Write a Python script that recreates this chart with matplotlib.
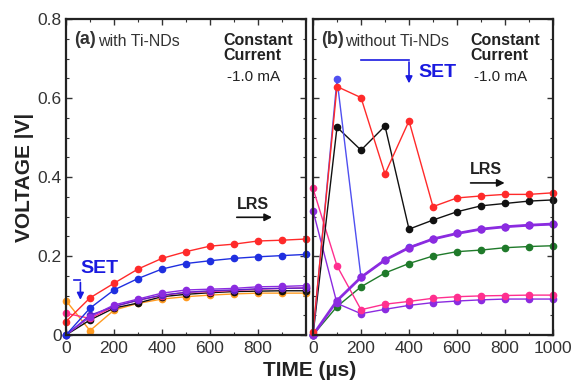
import matplotlib
matplotlib.use("Agg")
import matplotlib.pyplot as plt
from matplotlib.ticker import MultipleLocator, FuncFormatter

plt.rcParams["font.family"] = ["Liberation Sans", "DejaVu Sans"]

time_us = [0, 100, 200, 300, 400, 500, 600, 700, 800, 900, 1000]

# Panel (a): with Ti-NDs
a_red    = [0.034, 0.094, 0.131, 0.167, 0.194, 0.211, 0.225, 0.230, 0.238, 0.240, 0.243]
a_blue   = [0.000, 0.068, 0.114, 0.143, 0.167, 0.181, 0.188, 0.194, 0.198, 0.201, 0.204]
a_purple = [0.000, 0.046, 0.076, 0.091, 0.106, 0.114, 0.116, 0.118, 0.122, 0.123, 0.125]
a_violet = [0.000, 0.050, 0.072, 0.088, 0.101, 0.108, 0.112, 0.114, 0.117, 0.118, 0.119]
a_pink   = [0.055, 0.042, 0.072, 0.088, 0.100, 0.108, 0.110, 0.113, 0.116, 0.118, 0.119]
a_black  = [0.000, 0.038, 0.068, 0.081, 0.097, 0.103, 0.107, 0.110, 0.111, 0.112, 0.112]
a_orange = [0.087, 0.011, 0.063, 0.080, 0.091, 0.097, 0.101, 0.104, 0.106, 0.106, 0.106]

# Panel (b): without Ti-NDs
b_red     = [0.008, 0.629, 0.601, 0.408, 0.542, 0.325, 0.347, 0.352, 0.356, 0.356, 0.360]
b_black   = [0.000, 0.526, 0.468, 0.529, 0.268, 0.291, 0.312, 0.327, 0.333, 0.339, 0.342]
b_blue    = [0.000, 0.647, 0.146, 0.190, 0.222, 0.243, 0.257, 0.268, 0.274, 0.278, 0.280]
b_violet  = [0.000, 0.087, 0.146, 0.190, 0.221, 0.243, 0.257, 0.268, 0.274, 0.278, 0.281]
b_green   = [0.000, 0.072, 0.122, 0.157, 0.181, 0.200, 0.211, 0.215, 0.221, 0.224, 0.226]
b_pink    = [0.371, 0.175, 0.064, 0.078, 0.085, 0.093, 0.097, 0.099, 0.100, 0.101, 0.101]
b_purple  = [0.315, 0.080, 0.054, 0.065, 0.075, 0.082, 0.086, 0.089, 0.091, 0.091, 0.091]

x_ticks_a = [0, 200, 400, 600, 800]
x_ticks_b = [0, 200, 400, 600, 800, 1000]
y_ticks = [0, 0.2, 0.4, 0.6, 0.8]

C_RED = "#ff2a2a"
C_BLUE = "#1f2fe0"
C_BLACK = "#111111"
C_ORANGE = "#ff9b21"
C_PINK = "#ff2f8f"
C_PURPLE = "#8b2be0"
C_VIOLET = "#5a22c8"
C_GREEN = "#1f7a2a"
C_LBLUE = "#5050f0"

fig = plt.figure(figsize=(5.80, 3.83), dpi=100)
axA = fig.add_axes([66/580, 48/383, 240/580, 316/383])
axB = fig.add_axes([313/580, 48/383, 240/580, 316/383])

TXT = "#333333"

def style(ax, xt, show_y):
    ax.set_xlim(0, 1000)
    ax.set_ylim(0, 0.8)
    ax.set_xticks(xt)
    ax.xaxis.set_minor_locator(MultipleLocator(100))
    ax.set_yticks(y_ticks)
    ax.yaxis.set_minor_locator(MultipleLocator(0.05))
    ax.tick_params(which="both", direction="in", top=True, right=True,
                   labelsize=12.5, labelcolor=TXT, color="#333333")
    ax.tick_params(which="major", length=4, width=1)
    ax.tick_params(which="minor", length=2, width=0.8)
    ax.yaxis.set_major_formatter(FuncFormatter(lambda v, p: "0" if v == 0 else f"{v:.1f}"))
    if not show_y:
        ax.tick_params(labelleft=False)
    for s in ax.spines.values():
        s.set_linewidth(1.6)
        s.set_color("#222222")
    ax.tick_params(axis="x", pad=4)
    ax.tick_params(axis="y", pad=3)

def series(ax, y, c, lw=1.0, ms=4.5, z=2):
    ax.plot(time_us, y, "-o", color=c, lw=lw, ms=ms, mec=c, mfc=c, zorder=z, clip_on=False)

style(axA, x_ticks_a, True)
style(axB, x_ticks_b, False)

series(axA, a_orange, C_ORANGE)
series(axA, a_black, C_BLACK)
series(axA, a_pink, C_PINK)
series(axA, a_violet, C_VIOLET)
series(axA, a_purple, C_PURPLE)
series(axA, a_blue, C_BLUE)
series(axA, a_red, C_RED)

series(axB, b_green, C_GREEN)
series(axB, b_purple, C_PURPLE)
series(axB, b_pink, C_PINK)
series(axB, b_black, C_BLACK)
series(axB, b_blue, C_LBLUE)
series(axB, b_violet, C_PURPLE, lw=2.0, ms=5)
series(axB, b_red, C_RED)

# Panel (a) texts
axA.text(0.035, 0.935, "(a)", transform=axA.transAxes, fontsize=13, fontweight="bold", color=TXT, va="center")
axA.text(0.135, 0.93, "with Ti-NDs", transform=axA.transAxes, fontsize=11.5, color=TXT, va="center")
axA.text(0.655, 0.955, "Constant\nCurrent", transform=axA.transAxes, fontsize=11.5, fontweight="bold",
         color="#222222", va="top", ha="left", linespacing=0.95)
axA.text(0.67, 0.815, "-1.0 mA", transform=axA.transAxes, fontsize=11, color="#222222", va="center")
axA.text(60, 0.168, "SET", fontsize=14, fontweight="bold", color="#1a1ae0", va="center")
axA.plot([35, 60], [0.139, 0.139], color="#1a1ae0", lw=1.2)
axA.annotate("", xy=(60, 0.082), xytext=(60, 0.140),
             arrowprops=dict(arrowstyle="-|>", color="#1a1ae0", lw=1.2, mutation_scale=10))
axA.text(710, 0.330, "LRS", fontsize=11.5, fontweight="bold", color="#222222", va="center")
axA.annotate("", xy=(870, 0.298), xytext=(700, 0.298),
             arrowprops=dict(arrowstyle="-|>", color="#111111", lw=1.2, mutation_scale=11))

# Panel (b) texts
axB.text(0.035, 0.935, "(b)", transform=axB.transAxes, fontsize=13, fontweight="bold", color=TXT, va="center")
axB.text(0.135, 0.93, "without Ti-NDs", transform=axB.transAxes, fontsize=11.5, color=TXT, va="center")
axB.text(0.655, 0.955, "Constant\nCurrent", transform=axB.transAxes, fontsize=11.5, fontweight="bold",
         color="#222222", va="top", ha="left", linespacing=0.95)
axB.text(0.67, 0.815, "-1.0 mA", transform=axB.transAxes, fontsize=11, color="#222222", va="center")
axB.plot([200, 400], [0.697, 0.697], color="#1a1ae0", lw=1.2)
axB.annotate("", xy=(400, 0.630), xytext=(400, 0.698),
             arrowprops=dict(arrowstyle="-|>", color="#1a1ae0", lw=1.2, mutation_scale=10))
axB.text(440, 0.665, "SET", fontsize=14, fontweight="bold", color="#1a1ae0", va="center")
axB.text(655, 0.418, "LRS", fontsize=11.5, fontweight="bold", color="#222222", va="center")
axB.annotate("", xy=(810, 0.385), xytext=(645, 0.385),
             arrowprops=dict(arrowstyle="-|>", color="#111111", lw=1.2, mutation_scale=11))

fig.text(24/580, 1 - 177/383, "VOLTAGE |V|", rotation=90, fontsize=15, fontweight="bold",
         color="#222222", ha="center", va="center")
fig.text(310/580, 1 - 371/383, "TIME (\u00b5s)", fontsize=15, fontweight="bold",
         color="#222222", ha="center", va="center")

fig.savefig("out.png", dpi=100)
